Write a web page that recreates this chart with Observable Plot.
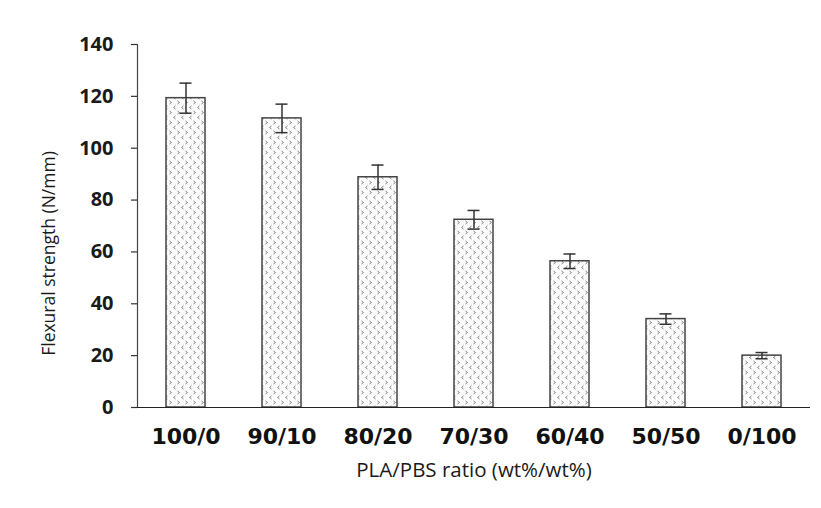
<!DOCTYPE html>
<html><head><meta charset="utf-8">
<script src="https://cdn.jsdelivr.net/npm/d3@7"></script>
<script src="https://cdn.jsdelivr.net/npm/@observablehq/plot@0.6"></script>
<style>body{margin:0;background:#fff;} svg{display:block;}</style>
</head><body><div id="chart"></div>
<script>
const ratios = ["100/0", "90/10", "80/20", "70/30", "60/40", "50/50", "0/100"];
const strength = [119.3, 111.5, 88.8, 72.4, 56.4, 34.1, 20.0];
const errors = [5.8, 5.5, 4.7, 3.6, 2.8, 2.0, 1.2];
const yTicks = [0, 20, 40, 60, 80, 100, 120, 140];
const yLabel = "Flexural strength (N/mm)";
const xLabel = "PLA/PBS ratio (wt%/wt%)";

const data = ratios.map((r, i) => ({ratio: r, value: strength[i], err: errors[i]}));

const chart = Plot.plot({
  width: 821, height: 508,
  marginLeft: 137, marginRight: 11, marginTop: 44, marginBottom: 101,
  style: {fontFamily: "'Open Sans', sans-serif", background: "#fff", color: "#1a1a1a"},
  x: {domain: ratios, paddingInner: 0.595, paddingOuter: 0.29, label: null},
  y: {domain: [0, 140], label: null},
  marks: [
    Plot.barY(data, {x: "ratio", y: "value", fill: "url(#chev)", stroke: "#444", strokeWidth: 1.5}),
    Plot.ruleX(data, {x: "ratio", y1: d => d.value - d.err, y2: d => d.value + d.err, stroke: "#333", strokeWidth: 1.5}),
    Plot.tickY(data, {x: "ratio", y: d => d.value - d.err, stroke: "#333", strokeWidth: 1.5, insetLeft: 13.5, insetRight: 13.5}),
    Plot.tickY(data, {x: "ratio", y: d => d.value + d.err, stroke: "#333", strokeWidth: 1.5, insetLeft: 13.5, insetRight: 13.5}),
    Plot.frame({anchor: "left", stroke: "#444", strokeWidth: 1.2}),
    Plot.ruleY([0], {stroke: "#222", strokeWidth: 1.2}),
    Plot.axisY({ticks: yTicks, tickSize: 6, tickPadding: 18, fontSize: 20, fontWeight: "bold", label: null, stroke: "#333", strokeWidth: 1.2, strokeOpacity: 1, fill: "#1a1a1a"}),
    Plot.axisX({tickSize: 0, tickPadding: 21, fontSize: 22, fontWeight: "bold", fontFamily: "'DejaVu Sans', sans-serif", label: null, fill: "#111"}),
    Plot.text([yLabel], {frameAnchor: "left", text: d => d, rotate: -90, dx: -88, dy: 27.5, fontSize: 17.5, fill: "#1a1a1a", textAnchor: "middle", lineAnchor: "middle"}),
    Plot.text([xLabel], {frameAnchor: "bottom", text: d => d, dy: 63, fontSize: 20.5, fill: "#1a1a1a", textAnchor: "middle", lineAnchor: "middle"})
  ]
});

const svg = d3.select(chart);
const defs = svg.insert("defs", ":first-child");
const pat = defs.append("pattern").attr("id", "chev").attr("patternUnits", "userSpaceOnUse")
  .attr("width", 8).attr("height", 10);
pat.append("rect").attr("width", 8).attr("height", 10).attr("fill", "#fbfbfb");
pat.append("path").attr("d", "M1.5,1 L3.5,2.5 L1.5,4").attr("fill", "none").attr("stroke", "#777").attr("stroke-width", 0.9);
pat.append("path").attr("d", "M7.5,6 L5.5,7.5 L7.5,9").attr("fill", "none").attr("stroke", "#777").attr("stroke-width", 0.9);

document.getElementById("chart").appendChild(chart);
</script>
</body></html>
